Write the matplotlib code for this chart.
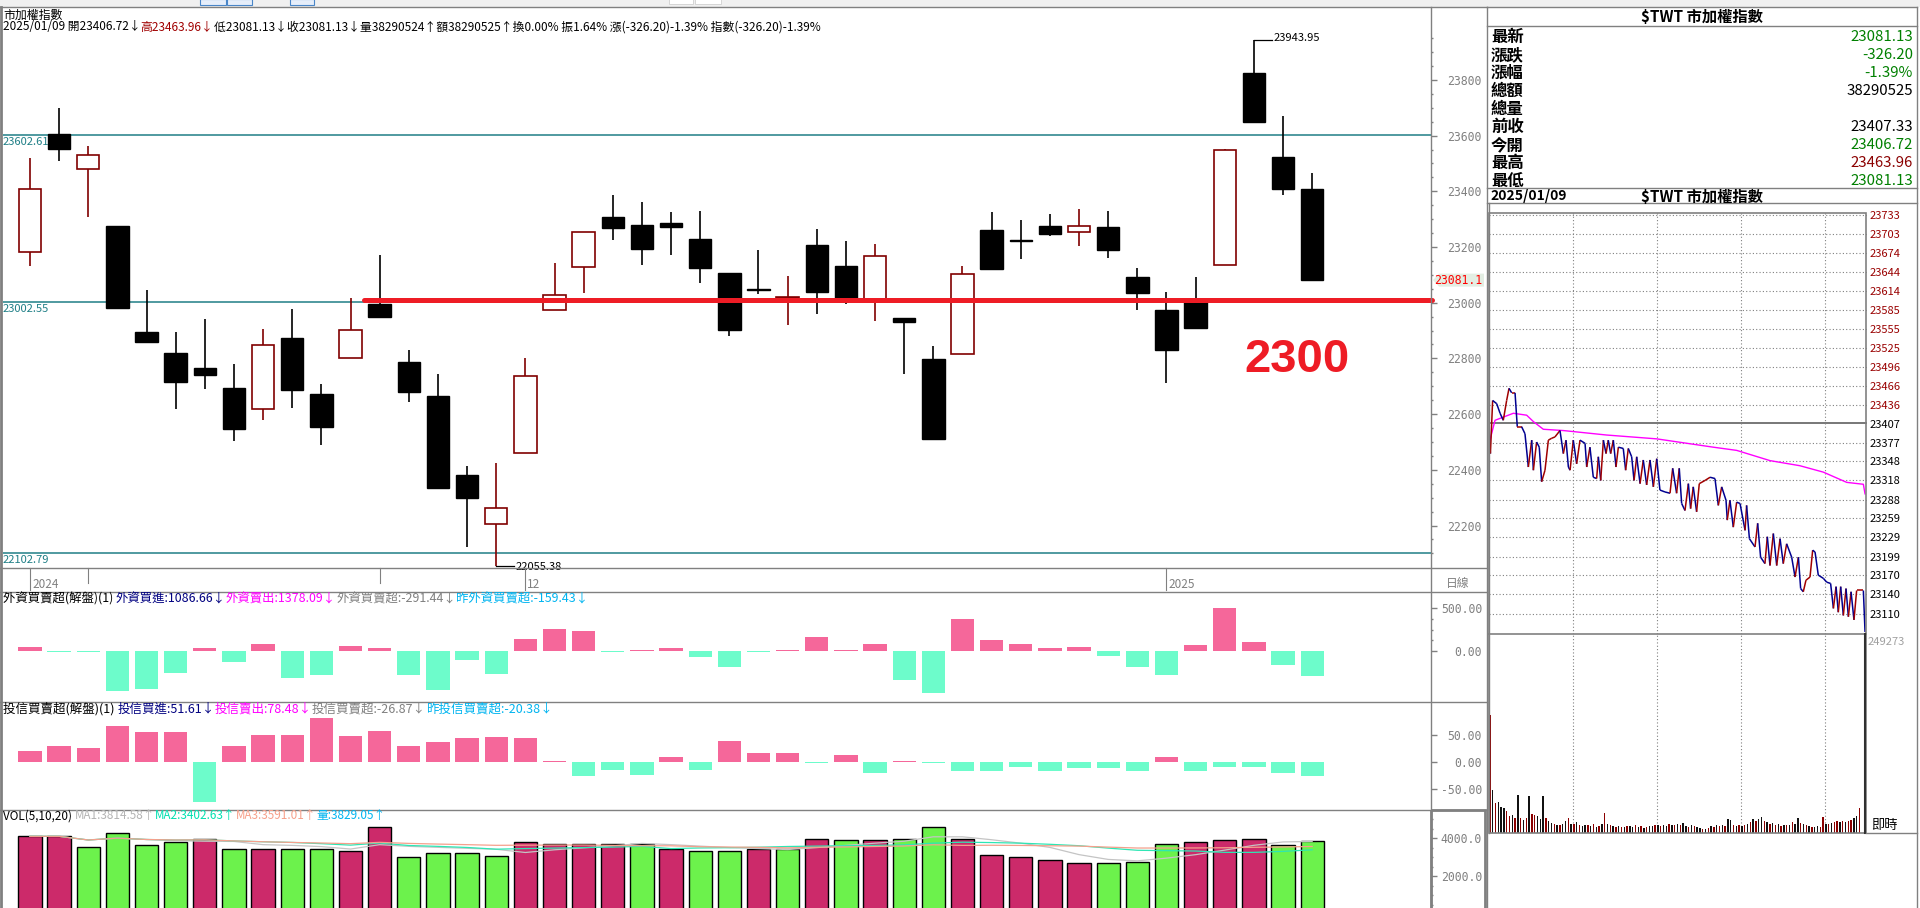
import numpy as np
import pandas as pd
import matplotlib
matplotlib.use("Agg")
import matplotlib.pyplot as plt
from matplotlib.patches import Rectangle, Polygon
from matplotlib.collections import LineCollection

plt.rcParams['font.family'] = ['Noto Sans CJK TC', 'DejaVu Sans']
plt.rcParams['axes.unicode_minus'] = False

# ---------------- daily candles ----------------
opens = [23181, 23606, 23479, 23275, 22895, 22819, 22766, 22694, 22617, 22873,
         22672, 22800, 22995, 22787, 22665, 22381, 22206, 22460, 22973, 23127,
         23308, 23279, 23286, 23229, 23107, 23050, 23017, 23207, 23132, 23010,
         22945, 22798, 22815, 23261, 23225, 23275, 23253, 23272, 23092, 22974,
         23010, 23134, 23825, 23523, 23406.72]
highs = [23518, 23698, 23563, 23275, 23046, 22895, 22941, 22780, 22906, 22977,
         22708, 23017, 23171, 22830, 22744, 22414, 22424, 22801, 23143, 23254,
         23387, 23362, 23326, 23329, 23107, 23189, 23096, 23265, 23221, 23211,
         22945, 22845, 23132, 23326, 23297, 23318, 23336, 23329, 23125, 23038,
         23092, 23552, 23943.95, 23670, 23463.96]
lows = [23133, 23510, 23309, 22982, 22860, 22619, 22691, 22505, 22580, 22623,
        22490, 22800, 22950, 22645, 22336, 22124, 22055.38, 22460, 22973, 23036,
        23226, 23136, 23172, 23072, 22882, 23032, 22921, 22961, 22995, 22935,
        22745, 22512, 22815, 23122, 23158, 23241, 23205, 23162, 22975, 22713,
        22906, 23134, 23650, 23388, 23081.13]
closes = [23407, 23553, 23529, 22982, 22860, 22716, 22741, 22548, 22847, 22688,
          22555, 22902, 22950, 22681, 22336, 22300, 22263, 22737, 23027, 23254,
          23269, 23194, 23273, 23126, 22903, 23046, 23020, 23040, 23010, 23167,
          22932, 22512, 23102, 23122, 23221, 23248, 23274, 23190, 23036, 22831,
          22910, 23547, 23650, 23407.33, 23081.13]

foreign_net = [45, -15, -10, -470, -440, -260, 30, -130, 85, -315,
               -285, 55, 30, -285, -460, -100, -270, 145, 260, 230,
               -15, 15, 30, -70, -185, -10, 10, 160, 15, 85,
               -340, -490, 375, 130, 85, 30, 45, -55, -185, -285,
               70, 500, 100, -159.43, -291.44]
trust_net = [21, 30, 26, 67, 56, 56, -75, 30, 51, 51,
             83, 48, 58, 30, 37, 44, 46, 44, 2, -27,
             -14, -25, 10, -14, 39, 16, 16, -1, 14, -21,
             2, -1, -16, -16, -9, -16, -11, -11, -16, 9,
             -16, -9, -9, -20.38, -26.87]
volumes = [4089, 4089, 3509, 4283, 3638, 3767, 3960, 3444, 3444, 3444,
           3444, 3315, 4605, 2993, 3186, 3186, 3057, 3767, 3702, 3702,
           3702, 3702, 3444, 3315, 3315, 3444, 3444, 3960, 3896, 3896,
           3960, 4605, 3960, 3122, 2993, 2850, 2700, 2700, 2750, 3700,
           3767, 3900, 3960, 3638, 3829.05]

price_ticks = [22200, 22400, 22600, 22800, 23000, 23200, 23400, 23600, 23800]
ref_levels = [23602.61, 23002.55, 22102.79]
support_level = 23008
support_label = '2300'
month_idx = [0, 17, 39]
month_labels = ['2024', '12', '2025']
week_idx = [2, 12]

# ---------------- intraday ----------------
prev_close = 23407.33
intraday_ticks = [23733, 23703, 23674, 23644, 23614, 23585, 23555, 23525, 23496, 23466,
                  23436, 23407, 23377, 23348, 23318, 23288, 23259, 23229, 23199, 23170,
                  23140, 23110]
tick_minutes = [0, 1, 2.6, 5.5, 7.9, 10.2, 12.6, 14.3, 16.2, 18.6,
                20.2, 23.3, 25.7, 28.1, 30.5, 31.7, 34.0, 35.9, 37.6, 40.0,
                42.4, 44.8, 47.1, 50.7, 53.1, 55.0, 56.7, 57.9, 60.2, 62.6,
                65.0, 68.6, 69.8, 72.1, 74.5, 76.9, 78.1, 79.8, 81.7, 83.6,
                85.2, 86.9, 88.8, 90.7, 92.4, 95.9, 97.6, 99.5, 101.9, 103.6,
                105.5, 107.9, 110.2, 112.6, 115.0, 117.4, 119.8, 122.1, 125.7, 129.3,
                131.2, 134.0, 135.9, 137.6, 140.0, 142.4, 144.0, 145.9, 148.3, 150.2,
                154.3, 157.9, 161.4, 163.8, 166.2, 169.3, 170.2, 172.1, 174.5, 176.9,
                179.3, 182.9, 184.0, 186.0, 190.0, 191.9, 194.0, 197.1, 198.8, 200.7,
                203.1, 205.5, 207.9, 210.2, 212.6, 216.2, 218.6, 221.0, 222.6, 224.5,
                226.4, 229.3, 231.2, 232.9, 235.2, 238.8, 241.2, 244.0, 246.0, 247.9,
                249.5, 251.2, 253.1, 255.0, 256.7, 258.6, 260.7, 262.6, 267.4, 268.6]
tick_prices = [23406.72, 23360, 23443, 23438, 23423, 23412, 23443, 23462, 23455, 23455,
               23402, 23402, 23391, 23339, 23381, 23334, 23378, 23370, 23316, 23334,
               23381, 23384, 23386, 23396, 23360, 23381, 23339, 23334, 23381, 23344,
               23381, 23376, 23339, 23370, 23323, 23321, 23355, 23318, 23381, 23360,
               23381, 23360, 23381, 23339, 23370, 23368, 23334, 23368, 23355, 23318,
               23355, 23313, 23350, 23311, 23350, 23308, 23352, 23303, 23300, 23298,
               23337, 23298, 23337, 23282, 23271, 23313, 23274, 23308, 23269, 23313,
               23318, 23323, 23321, 23279, 23308, 23287, 23256, 23287, 23245, 23284,
               23282, 23240, 23279, 23227, 23214, 23251, 23198, 23188, 23230, 23185,
               23235, 23185, 23227, 23188, 23219, 23198, 23167, 23198, 23149, 23144,
               23162, 23167, 23209, 23206, 23170, 23165, 23159, 23157, 23118, 23152,
               23112, 23152, 23107, 23149, 23105, 23144, 23100, 23146, 23146, 23081.13]
avg_minutes = [0.7, 4.3, 10.2, 17.4, 26.9, 31.7, 38.8, 53.1, 84.0, 119.8,
               160.2, 176.9, 200.7, 222.1, 238.8, 255.5, 267.4, 268.6]
avg_prices = [23381, 23412, 23417, 23423, 23420, 23410, 23398, 23396, 23389, 23383,
              23370, 23365, 23349, 23341, 23331, 23315, 23312, 23297]
minute_vol = [147500, 53750, 37500, 38750, 32500, 31250, 27500, 21250, 22500, 18750,
              47500, 18750, 16250, 18750, 46250, 23750, 22500, 21250, 17500, 46250,
              18750, 15000, 12500, 11250, 10000, 10000, 11250, 15000, 18750, 11250,
              11250, 13750, 10000, 8750, 10000, 10000, 8750, 11250, 7500, 8750,
              11250, 25000, 11250, 10000, 8750, 7500, 8750, 7500, 7500, 8750,
              8750, 7500, 10000, 7500, 8750, 6250, 7500, 8750, 8750, 10000,
              10000, 8750, 10000, 8750, 11250, 10000, 10000, 11250, 10000, 12500,
              8750, 7500, 10000, 8750, 7500, 6250, 5000, 5000, 6250, 8750,
              7500, 10000, 8750, 10000, 8750, 17500, 16250, 10000, 8750, 10000,
              8750, 10000, 11250, 13750, 17500, 15000, 17500, 20000, 15000, 13750,
              11250, 12500, 10000, 11250, 8750, 10000, 10000, 10000, 13750, 11250,
              18750, 12500, 11250, 10000, 8750, 7500, 7500, 8750, 7500, 20000,
              11250, 11250, 12500, 13750, 15000, 13750, 15000, 13750, 15000, 16250,
              18750, 21250, 31250]
minute_vol_dir = ("rkrkkkrrkr" "krkrkrrkkk" "rkkrkrkkrk" "rkrkkrkrkr" "krkrkrkrkr"
                  "kkrkrkrkkr" "krkkrkrkrk" "krkrkkrkrk" "rkrkrkkrkr" "krkrkrkkrk"
                  "rkrkrkrkrk" "krkrkrkkrr" "krkrrkrkrr" "kkr")
vol_axis_max = 249273

quote_labels = ['最新', '漲跌', '漲幅', '總額', '總量', '前收', '今開', '最高', '最低']
quote_values = ['23081.13', '-326.20', '-1.39%', '38290525', '', '23407.33', '23406.72', '23463.96', '23081.13']
quote_colors = ['#008000', '#008000', '#008000', 'black', 'black', 'black', '#008000', '#8b0000', '#008000']

# ---------------- figure ----------------
W, H = 1920, 908
fig = plt.figure(figsize=(W / 100, H / 100), dpi=100)
fig.patch.set_facecolor('white')
R = fig.canvas.get_renderer()

ov = fig.add_axes([0, 0, 1, 1], zorder=20)
ov.set_xlim(0, W)
ov.set_ylim(H, 0)
ov.axis('off')
ov.patch.set_alpha(0)

GRAY = '#808080'
MONO = ['DejaVu Sans Mono', 'DejaVu Sans']


def panel(l, t, r, b, z=5):
    a = fig.add_axes([l / W, 1 - b / H, (r - l) / W, (b - t) / H], zorder=z)
    a.patch.set_alpha(0)
    for s in a.spines.values():
        s.set_visible(False)
    a.tick_params(axis='x', which='both', bottom=False, top=False, labelbottom=False)
    return a


def right_axis(a, ticks, labels, minor=None, pad_px=51, fs=8.3):
    a.yaxis.tick_right()
    a.set_yticks(ticks)
    a.set_yticklabels(labels, ha='right', family=MONO)
    if minor is not None:
        a.set_yticks(minor, minor=True)
    a.tick_params(axis='y', which='major', direction='out', length=4, width=1,
                  color=GRAY, labelcolor=GRAY, labelsize=fs, pad=pad_px * 0.72 - 4)
    a.tick_params(axis='y', which='minor', direction='out', length=1.5, width=1, color=GRAY)


def seq_text(x, y, parts, fs, target=None, **kw):
    if target:
        tot = 0
        for s, c in parts:
            t = ov.text(0, 0, s, fontsize=fs, **kw)
            tot += t.get_window_extent(renderer=R).width
            t.remove()
        fs = fs * target / tot
    for s, c in parts:
        t = ov.text(x, y, s, color=c, fontsize=fs, va='center', ha='left', **kw)
        x += t.get_window_extent(renderer=R).width


# ---------------- main candle panel ----------------
SP, X0 = 29.14, 30.0
XL = ((3 - X0) / SP, (1431 - X0) / SP)
REFY, REFP, PPX = 302.0, 23002.55, 3.59


def ylim_for(t, b):
    return (REFP - (b - REFY) * PPX, REFP + (REFY - t) * PPX)


idx = np.arange(len(closes))
axk = panel(3, 7, 1431, 568)
axk.set_xlim(*XL)
axk.set_ylim(*ylim_for(7, 568))
minor_p = [v for v in np.arange(22100, 23951, 50) if v not in price_ticks]
right_axis(axk, price_ticks, [str(v) for v in price_ticks], minor=minor_p)

TEAL = '#1f7f86'
for lv in ref_levels:
    axk.axhline(lv, color=TEAL, lw=1.1, zorder=1)
    axk.annotate(f'{lv:.2f}', xy=(0, lv), xycoords=('axes fraction', 'data'),
                 xytext=(0, -5), textcoords='offset points', color=TEAL,
                 fontsize=8, va='center', ha='left', zorder=2)

MAROON = '#800000'
BW = 0.77
for i, (o, h, l, c) in enumerate(zip(opens, highs, lows, closes)):
    if c >= o:
        axk.vlines(i, c, h, color=MAROON, lw=1.2, zorder=3)
        axk.vlines(i, l, o, color=MAROON, lw=1.2, zorder=3)
        axk.add_patch(Rectangle((i - BW / 2, o), BW, max(c - o, 1), fc='white',
                                ec=MAROON, lw=1.2, zorder=4))
    else:
        axk.vlines(i, l, h, color='black', lw=1.2, zorder=3)
        axk.add_patch(Rectangle((i - BW / 2, c), BW, o - c, fc='black',
                                ec='black', lw=1, zorder=4))

imax = int(np.argmax(highs))
imin = int(np.argmin(lows))
axk.plot([imax, imax + 0.62], [highs[imax]] * 2, color='black', lw=0.9, zorder=5)
axk.text(imax + 0.66, highs[imax] + 5, f'{highs[imax]:.2f}', fontsize=8, va='center', zorder=5)
axk.plot([imin, imin + 0.62], [lows[imin]] * 2, color='black', lw=0.9, zorder=5, clip_on=False)
axk.text(imin + 0.66, lows[imin] - 3, f'{lows[imin]:.2f}', fontsize=8, va='center', zorder=5)

RED = '#ee1c25'
axk.plot([11.46, XL[1] + 0.05], [support_level] * 2, color=RED, lw=3.6,
         solid_capstyle='round', zorder=6, clip_on=False)
ov.text(1297, 360, support_label, color=RED, fontsize=34, fontweight='bold',
        family=['Liberation Sans', 'DejaVu Sans'], ha='center', va='center')

# current price marker
ycur = REFY - (closes[-1] - REFP) / PPX
ov.add_patch(Polygon([(1433, ycur), (1439, ycur - 6.5), (1484, ycur - 6.5),
                      (1484, ycur + 6.5), (1439, ycur + 6.5)], closed=True,
                     fc='#e3eee3', ec='none'))
ov.text(1482, ycur, f'{closes[-1]:.1f}', color='#ff0000', fontsize=8.3, family=MONO,
        ha='right', va='center')

# date row
for i in month_idx:
    px = X0 + SP * i
    ov.plot([px, px], [568, 590], color=GRAY, lw=0.8)
for i, lab in zip(month_idx, month_labels):
    ov.text(X0 + SP * i + 2, 584, lab, color=GRAY, fontsize=8.5, va='center', ha='left')
for i in week_idx:
    px = X0 + SP * i
    ov.plot([px, px], [568, 583], color=GRAY, lw=0.8)
ov.text(1458, 584, '日線', color=GRAY, fontsize=8.5, ha='center', va='center')

# ---------------- foreign net panel ----------------
PINK, AQUA = '#f5679a', '#6dfccb'
axf = panel(3, 592, 1431, 702)
axf.set_xlim(*XL)
axf.set_ylim(-597, 690)
axf.bar(idx, foreign_net, width=0.8, color=[PINK if v > 0 else AQUA for v in foreign_net])
right_axis(axf, [0, 500], ['0.00', '500.00'], minor=[125, 250, 375])

# ---------------- trust net panel ----------------
axt = panel(3, 702, 1431, 810)
axt.set_xlim(*XL)
axt.set_ylim(-89.6, 112)
axt.bar(idx, trust_net, width=0.8, color=[PINK if v > 0 else AQUA for v in trust_net])
right_axis(axt, [-50, 0, 50], ['-50.00', '0.00', '50.00'])

# ---------------- volume panel ----------------
axv = panel(3, 810, 1431, 908)
axv.set_xlim(*XL)
axv.set_ylim(316, 5474)
vcol = ['#cc2a6a' if (i == 0 or closes[i] >= closes[i - 1]) else '#6cf24c' for i in idx]
axv.bar(idx, volumes, width=0.8, color=vcol, edgecolor='black', lw=1)
vs = pd.Series(volumes)
for n, col in [(5, '#c4c4c4'), (10, '#2ee6b4'), (20, '#f5a08c')]:
    axv.plot(idx, vs.rolling(n, min_periods=1).mean(), color=col, lw=0.9)
right_axis(axv, [2000, 4000], ['2000.0', '4000.0'], minor=list(range(500, 5500, 500)))

# ---------------- headers ----------------
HF = 8.3
ov.text(3, 15, '市加權指數', fontsize=8.6, va='center', ha='left')
seq_text(3, 27, [('2025/01/09 開23406.72↓', 'black'), ('高23463.96↓', '#a00000'),
                 ('低23081.13↓收23081.13↓量38290524↑額38290525↑換0.00% 振1.64% 漲(-326.20)-1.39% 指數(-326.20)-1.39%', 'black')],
         HF, target=818)
seq_text(3, 599, [('外資買賣超(解盤)(1) ', 'black'), ('外資買進:1086.66↓', '#000080'),
                  ('外資賣出:1378.09↓', '#ff00ff'), ('外資買賣超:-291.44↓', '#808080'),
                  ('昨外資買賣超:-159.43↓', '#00b4f0')], HF, target=586)
seq_text(3, 709, [('投信買賣超(解盤)(1) ', 'black'), ('投信買進:51.61↓', '#000080'),
                  ('投信賣出:78.48↓', '#ff00ff'), ('投信買賣超:-26.87↓', '#808080'),
                  ('昨投信買賣超:-20.38↓', '#00b4f0')], HF, target=549)
seq_text(3, 816, [('VOL(5,10,20) ', 'black'), ('MA1:3814.58↑', '#b4b4b4'),
                  ('MA2:3402.63↑', '#00e0b0'), ('MA3:3591.01↑', '#f7a08a'),
                  ('量:3829.05↑', '#00b4f0')], HF, target=382)

# ---------------- frames (left part) ----------------
ov.add_patch(Rectangle((0, 0), W, 7, fc='#f0f0f0', ec='none'))
for (x0b, x1b, fc) in [(200, 226, '#e6eefa'), (227, 252, '#e6eefa'), (290, 314, '#e6eefa')]:
    ov.add_patch(Rectangle((x0b, -1), x1b - x0b, 6, fc=fc, ec='#4a86c8', lw=0.8))
for (x0b, x1b) in [(669, 693), (695, 721)]:
    ov.add_patch(Rectangle((x0b, -1), x1b - x0b, 5, fc='white', ec='#d0d0d0', lw=0.6))
ov.plot([1.3, 1.3], [7, H], color=GRAY, lw=2)
ov.plot([0, 1487], [7, 7], color=GRAY, lw=1)
for yy in [568, 592, 702, 810]:
    ov.plot([0, 1487], [yy, yy], color=GRAY, lw=1)
ov.plot([1431, 1431], [7, H], color=GRAY, lw=1)
ov.add_patch(Rectangle((1431, 810), 54, 100, fc='none', ec=GRAY, lw=2))

# ---------------- right quote panel ----------------
ov.plot([1487, 1487], [7, H], color=GRAY, lw=1)
ov.plot([1917, 1917], [7, H], color=GRAY, lw=1)
for yy in [7, 26, 188, 203]:
    ov.plot([1487, 1917], [yy, yy], color=GRAY, lw=1)
ov.text(1702, 17, '$TWT 市加權指數', fontsize=11, fontweight='bold', ha='center', va='center')
for k, (lab, val, col) in enumerate(zip(quote_labels, quote_values, quote_colors)):
    yy = 37 + 18 * k
    ov.text(1491, yy, lab, fontsize=11.8, fontweight='bold', ha='left', va='center')
    ov.text(1913, yy, val, fontsize=10.8, color=col, ha='right', va='center')
ov.text(1490, 196, '2025/01/09', fontsize=10, fontweight='bold', ha='left', va='center')
ov.text(1702, 197, '$TWT 市加權指數', fontsize=11, fontweight='bold', ha='center', va='center')

# ---------------- intraday price ----------------
IP = 1.5632
ai = panel(1489, 213, 1867, 634)
ai.set_xlim(0, 270)
ai.set_ylim(prev_close - (634 - 423.3) * IP, prev_close + (423.3 - 213) * IP)
for v in intraday_ticks:
    if v == 23407:
        ai.axhline(prev_close, color='#606060', lw=1.2, zorder=1)
    else:
        ai.axhline(v, color=GRAY, lw=0.8, ls=(0, (1, 2)), zorder=1)
for m in [60, 120, 180, 240]:
    ai.axvline(m, color=GRAY, lw=0.8, ls=(0, (1, 2)), zorder=1)
pts = np.column_stack([tick_minutes, tick_prices])
segs = np.stack([pts[:-1], pts[1:]], axis=1)
scol = ['#a00000' if b >= a else '#000090' for a, b in zip(tick_prices[:-1], tick_prices[1:])]
ai.add_collection(LineCollection(segs, colors=scol, linewidths=1.1, zorder=3))
ai.plot(avg_minutes, avg_prices, color='#ff00ff', lw=1.0, zorder=2)
ai.yaxis.tick_right()
ai.set_yticks(intraday_ticks)
ai.set_yticklabels([str(v) for v in intraday_ticks])
ai.tick_params(axis='y', length=0, pad=2, labelsize=8)
for lab, v in zip(ai.get_yticklabels(), intraday_ticks):
    lab.set_color('#990000' if v > prev_close else 'black')

# ---------------- intraday volume ----------------
aiv = panel(1489, 634, 1867, 833)
aiv.set_xlim(0, 270)
aiv.set_ylim(0, vol_axis_max)
bar_t = np.arange(len(minute_vol)) * 2 + 0.6
aiv.bar(bar_t, minute_vol, width=1.0,
        color=['#8b0000' if d == 'r' else '#111111' for d in minute_vol_dir])
for m in [60, 120, 180, 240]:
    aiv.axvline(m, color=GRAY, lw=0.8, ls=(0, (1, 2)), zorder=0)
aiv.set_yticks([])

ov.add_patch(Rectangle((1489, 213), 1866 - 1489, 833 - 213, fc='none', ec=GRAY, lw=1.2))
ov.plot([1489, 1489], [203, 833], color=GRAY, lw=1)
ov.plot([1489, 1866], [634, 634], color=GRAY, lw=1.2)
ov.plot([1865, 1865], [634, 833], color='#303030', lw=1.5)
ov.plot([1866, 1917], [833, 833], color=GRAY, lw=1)
ov.text(1868, 642, str(vol_axis_max), color='#a0a0a0', fontsize=8, ha='left', va='center')
ov.text(1871, 826, '即時', color='black', fontsize=9.5, ha='left', va='center')

fig.savefig('out.png', dpi=100, facecolor='white')
